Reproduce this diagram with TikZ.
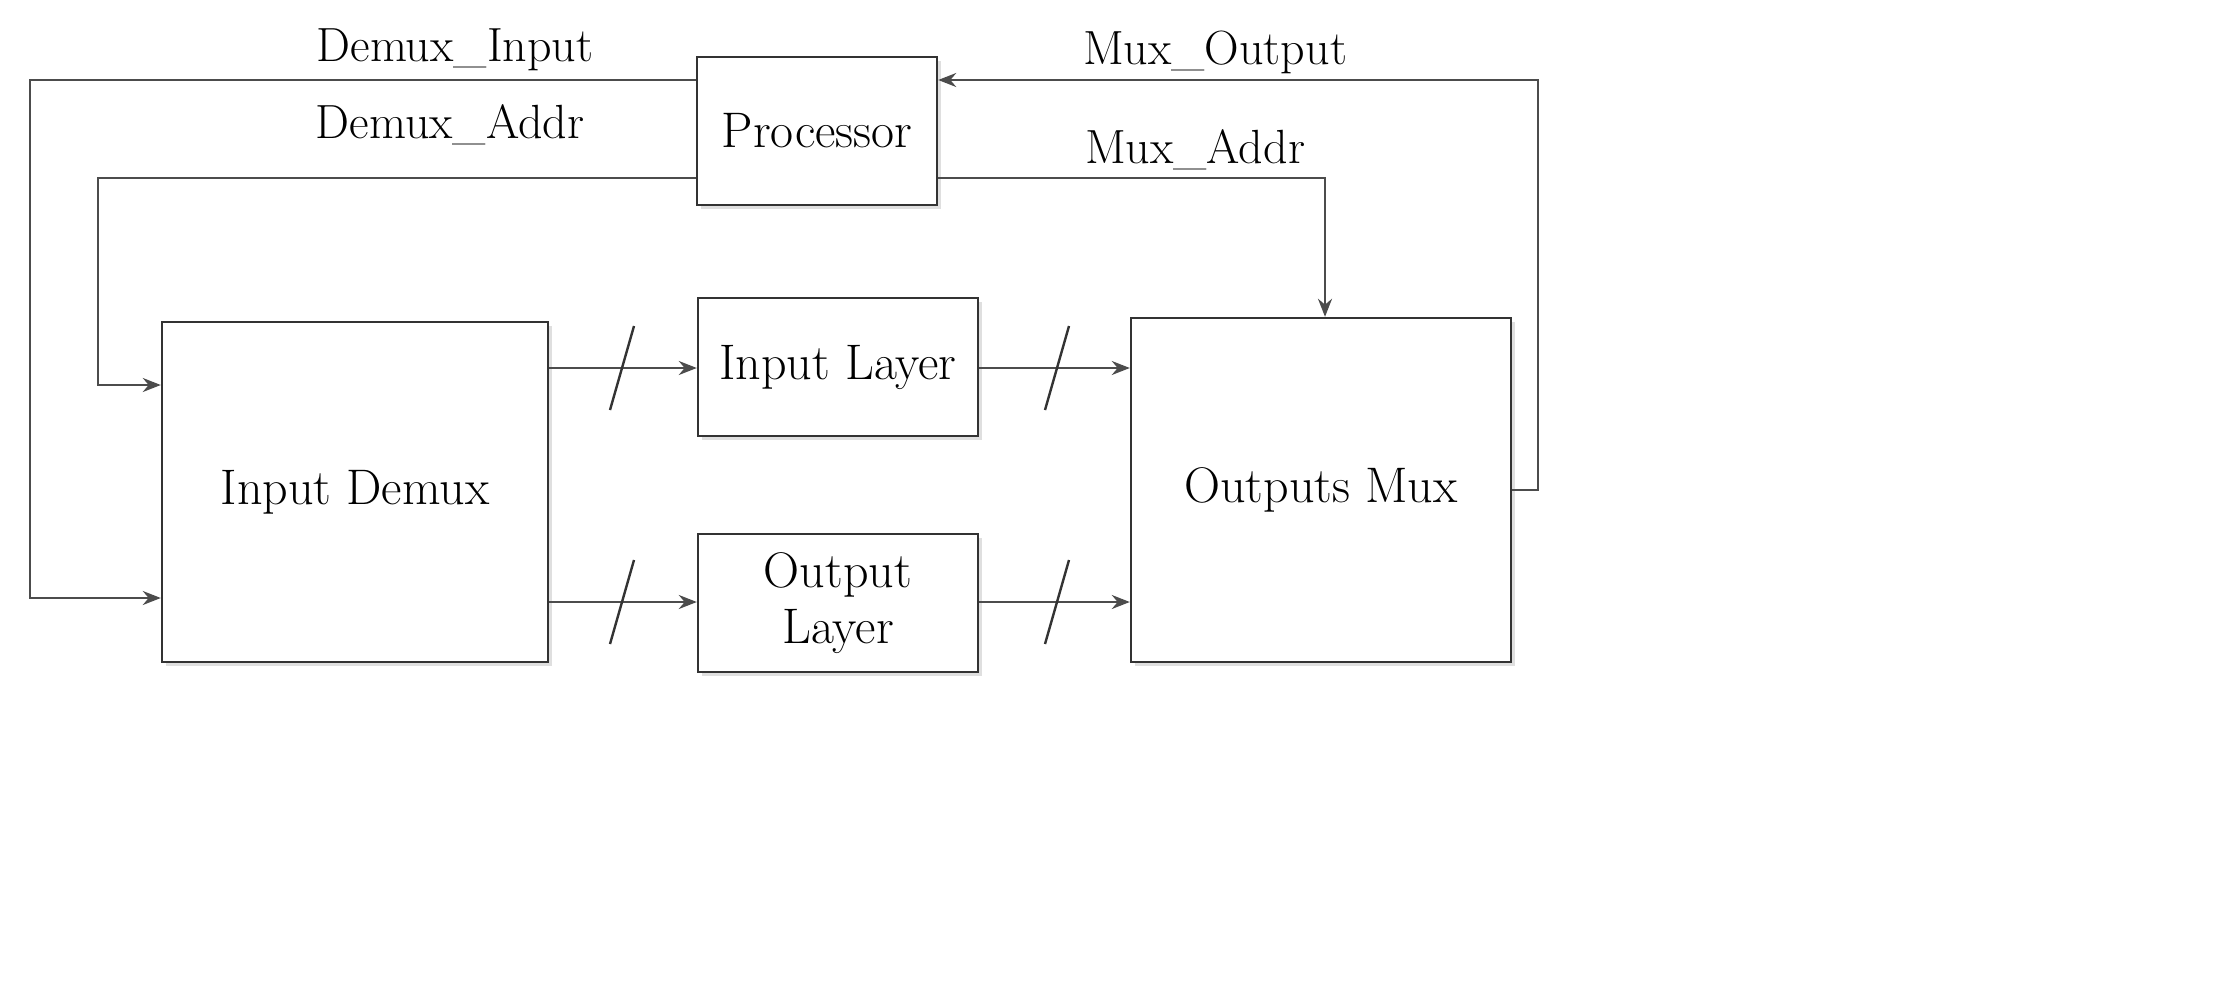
\documentclass[tikz,border=0pt]{standalone}
\usetikzlibrary{arrows.meta,shadows}
\begin{document}
\begin{tikzpicture}[x=0.5pt,y=-0.5pt,
  box/.style={draw=black!80,line width=1.2pt,fill=white,inner sep=0pt,align=center,
    font=\fontsize{25}{28}\selectfont,drop shadow={shadow xshift=2pt,shadow yshift=-2pt,opacity=0.25}},
  con/.style={draw=black!70,line width=1.2pt,-{Stealth[length=9pt,width=7pt]}},
  lab/.style={font=\fontsize{24}{28}\selectfont},
  sl/.style={draw=black!80,line width=1.2pt}]
\useasboundingbox (0,0) rectangle (2216,985);
\node[box,minimum width=120pt,minimum height=74pt] (proc) at (817,131) {Processor};
\node[box,minimum width=193pt,minimum height=170pt] (dmx) at (355,492) {Input Demux};
\node[box,minimum width=140pt,minimum height=69pt] (il) at (838,367) {Input Layer};
\node[box,minimum width=140pt,minimum height=69pt] (ol) at (838,603) {Output\\Layer};
\node[box,minimum width=190pt,minimum height=172pt] (mx) at (1321,490) {Outputs Mux};
% Demux_Input
\coordinate (a1) at (30,80);
\coordinate (a2) at (30,598);
\draw[con] (proc.west |- a1) -- (a1) -- (a2) -- (dmx.west |- a2);
\node[lab] (l1) at (455,50) {Demux\_Input};
% Demux_Addr
\coordinate (b1) at (98,178);
\coordinate (b2) at (98,385);
\draw[con] (proc.west |- b1) -- (b1) -- (b2) -- (dmx.west |- b2);
\node[lab] (l2) at (450,125) {Demux\_Addr};
% Mux_Output
\coordinate (c1) at (1538,490);
\coordinate (c2) at (1538,80);
\draw[con] (mx.east |- c1) -- (c1) -- (c2) -- (proc.east |- c2);
\node[lab] (l3) at (1215,52) {Mux\_Output};
% Mux_Addr
\coordinate (d1) at (1325,178);
\draw[con] (proc.east |- d1) -- (d1) -- (mx.north -| d1);
\node[lab] (l4) at (1195,150) {Mux\_Addr};
% data paths
\coordinate (e1) at (0,368);
\coordinate (e2) at (0,602);
\draw[con] (dmx.east |- e1) -- (il.west |- e1);
\draw[con] (dmx.east |- e2) -- (ol.west |- e2);
\draw[con] (il.east |- e1) -- (mx.west |- e1);
\draw[con] (ol.east |- e2) -- (mx.west |- e2);
\coordinate (s1a) at (610,410); \coordinate (s1b) at (634,326);
\coordinate (s2a) at (610,644); \coordinate (s2b) at (634,560);
\coordinate (s3a) at (1045,410); \coordinate (s3b) at (1069,326);
\coordinate (s4a) at (1045,644); \coordinate (s4b) at (1069,560);
\draw[sl] (s1a) -- (s1b); \draw[sl] (s2a) -- (s2b);
\draw[sl] (s3a) -- (s3b); \draw[sl] (s4a) -- (s4b);
\end{tikzpicture}
\end{document}
